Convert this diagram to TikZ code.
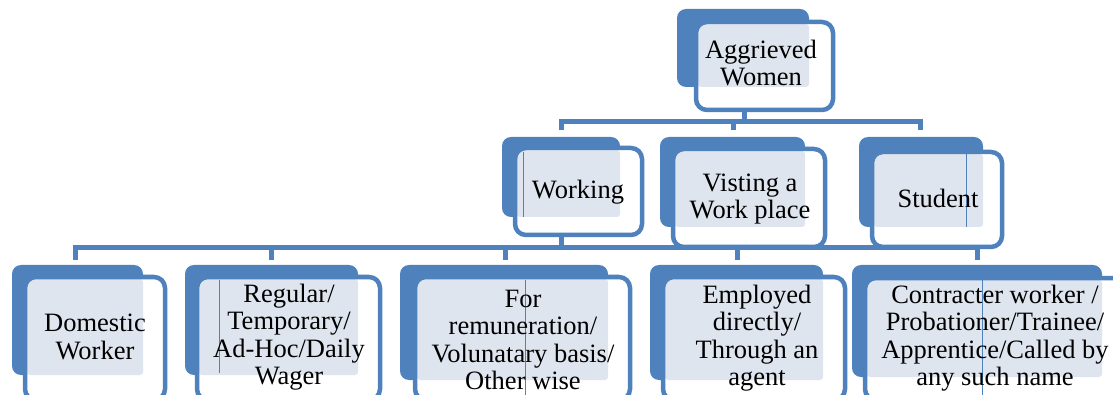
\documentclass[tikz,border=0pt]{standalone}
\usepackage{fontspec}
\setmainfont{Liberation Serif}
\definecolor{obl}{HTML}{4F81BD}
\definecolor{dotf}{HTML}{DFE5EE}
\tikzset{
  back/.style={fill=obl, rounded corners=9pt},
  frontw/.style={fill=white, rounded corners=11pt},
  dots/.style={fill=dotf, rounded corners=3pt},
  frame/.style={draw=obl, line width=4.5pt, rounded corners=11pt},
  conn/.style={draw=obl, line width=5pt},
  thin/.style={draw=obl, line width=0.8pt},
  lbl/.style={align=center, inner sep=0pt, font=\fontsize{26.5}{27.5}\selectfont}
}
% #1 bx1 #2 by1 #3 bx2 #4 by2 #5 fx1 #6 fy1 #7 fx2 #8 fy2
\newcommand\obox[8]{%
  \fill[back] (#1,#2) rectangle (#3,#4);
  \fill[frontw] (#5,#6) rectangle (#7,#8);
  \fill[dots] (#5+2,#6+2) rectangle (#3,#4);
  \draw[frame] (#5,#6) rectangle (#7,#8);
}
\begin{document}
\begin{tikzpicture}[x=1pt,y=-1pt]
\useasboundingbox (0,0) rectangle (1113,395);
\clip (0,0) rectangle (1113,395);
\fill[white] (0,0) rectangle (1113,395);

% level 1
\obox{677}{9}{809}{87}{696}{22}{833}{110}
\node[lbl] (agg) at (761,63) {Aggrieved\\Women};

% level 2
\obox{502}{137}{620}{217}{515}{148}{642}{235}
\draw[thin] (523,152) -- (523,217);
\node[lbl] (work) at (578,192) {Working};

\obox{660}{137}{805}{227}{673}{149}{825}{247}
\node[lbl] (visit) at (750,199) {Visting a\\Work place};

\obox{859}{137}{983}{227}{872}{152}{1002}{247}
\draw[thin] (966,152) -- (966,227);
\node[lbl] (stud) at (938,198) {Student};

% level 3
\obox{12}{265}{143}{375}{25}{277}{165}{400}
\node[lbl] (dom) at (95,337) {Domestic\\Worker};

\obox{185}{265}{358}{375}{197}{277}{380}{400}
\draw[thin] (219,280) -- (219,373);
\node[lbl] (reg) at (289,337) {Regular/\\Temporary/\\Ad-Hoc/Daily\\Wager};

\obox{400}{265}{608}{380}{415}{277}{630}{400}
\draw[thin] (525,280) -- (525,395);
\node[lbl] (rem) at (523,340) {For\\remuneration/\\Volunatary basis/\\Other wise};

\obox{650}{265}{823}{380}{663}{277}{845}{400}
\node[lbl] (emp) at (757,338) {Employed\\directly/\\Through an\\agent};

\obox{852}{265}{1102}{377}{865}{278}{1125}{400}
\draw[thin] (982,280) -- (982,395);
\node[lbl] (con) at (995,338) {Contracter worker /\\Probationer/Trainee/\\Apprentice/Called by\\any such name};

% connectors level 1 -> 2
\coordinate (aggb) at (744,110);
\coordinate (b1L) at (561,122);
\coordinate (b1R) at (920,122);
\coordinate (workt) at (561,130);
\coordinate (visitt) at (733,130);
\coordinate (studt) at (920,130);
\draw[conn] (workt) -- (b1L) -- (b1R) -- (studt);
\draw[conn] (aggb) -- (aggb |- b1L);
\draw[conn] (visitt) -- (visitt |- b1L);

% connectors level 2 -> 3
\coordinate (workb) at (561,235);
\coordinate (b2L) at (75,248);
\coordinate (b2R) at (977,248);
\coordinate (domt) at (75,260);
\coordinate (regt) at (271,260);
\coordinate (remt) at (505,260);
\coordinate (empt) at (737,260);
\coordinate (cont) at (977,260);
\draw[conn] (domt) -- (b2L) -- (b2R) -- (cont);
\draw[conn] (workb) -- (workb |- b2L);
\draw[conn] (regt) -- (regt |- b2L);
\draw[conn] (remt) -- (remt |- b2L);
\draw[conn] (empt) -- (empt |- b2L);
\end{tikzpicture}
\end{document}
